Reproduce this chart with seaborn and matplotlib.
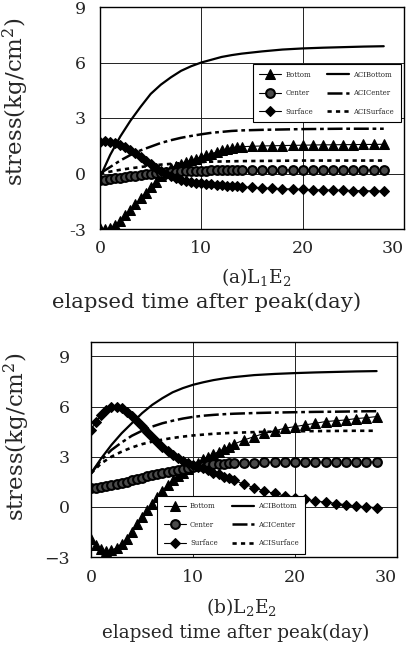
import matplotlib
matplotlib.use("Agg")
import matplotlib.pyplot as plt
import seaborn as sns
import pandas as pd

# ---------------- data ----------------
t_mark = [0, 0.5, 1, 1.5, 2, 2.5, 3, 3.5, 4, 4.5, 5, 5.5, 6, 6.5, 7, 7.5, 8, 8.5, 9, 9.5,
          10, 10.5, 11, 11.5, 12, 12.5, 13, 13.5, 14, 15, 16, 17, 18, 19, 20, 21, 22, 23,
          24, 25, 26, 27, 28]
t_line = [0, 1, 2, 3, 4, 5, 6, 7, 8, 9, 10, 11, 12, 13, 14, 16, 18, 20, 22, 24, 26, 28]

# (a) L1E2
a_bottom = [-2.95, -3.0, -2.95, -2.8, -2.55, -2.25, -1.95, -1.65, -1.35, -1.05, -0.75, -0.45,
            -0.15, 0.1, 0.3, 0.42, 0.53, 0.63, 0.72, 0.8, 0.9, 1.0, 1.08, 1.15, 1.25, 1.33,
            1.38, 1.42, 1.45, 1.47, 1.49, 1.5, 1.51, 1.52, 1.53, 1.54, 1.55, 1.55, 1.56,
            1.56, 1.57, 1.57, 1.58]
a_center = [-0.35, -0.33, -0.3, -0.27, -0.23, -0.2, -0.16, -0.12, -0.08, -0.05, -0.02, 0.01,
            0.04, 0.06, 0.08, 0.1, 0.11, 0.12, 0.13, 0.14, 0.15, 0.16, 0.17, 0.17, 0.18, 0.18,
            0.19, 0.19, 0.2, 0.2, 0.2, 0.2, 0.2, 0.2, 0.2, 0.2, 0.2, 0.2, 0.19, 0.19, 0.19,
            0.18, 0.18]
a_surface = [1.7, 1.75, 1.72, 1.65, 1.55, 1.42, 1.27, 1.1, 0.9, 0.7, 0.5, 0.3, 0.12, -0.02,
             -0.15, -0.25, -0.33, -0.4, -0.45, -0.5, -0.53, -0.56, -0.59, -0.62, -0.64, -0.66,
             -0.68, -0.7, -0.72, -0.75, -0.78, -0.8, -0.82, -0.84, -0.86, -0.88, -0.89, -0.9,
             -0.91, -0.92, -0.93, -0.94, -0.95]
a_aci_bottom = [-0.2, 1.0, 2.0, 2.85, 3.6, 4.3, 4.8, 5.2, 5.55, 5.8, 6.0, 6.15, 6.3, 6.4,
                6.48, 6.6, 6.7, 6.76, 6.8, 6.83, 6.86, 6.88]
a_aci_center = [0.0, 0.35, 0.7, 1.0, 1.25, 1.45, 1.65, 1.8, 1.93, 2.03, 2.12, 2.2, 2.25, 2.3,
                2.33, 2.36, 2.38, 2.4, 2.41, 2.42, 2.42, 2.42]
a_aci_surface = [0.0, 0.1, 0.2, 0.28, 0.35, 0.42, 0.48, 0.52, 0.56, 0.6, 0.62, 0.64, 0.65,
                 0.66, 0.67, 0.68, 0.69, 0.7, 0.7, 0.7, 0.7, 0.7]

# (b) L2E2
b_bottom = [-1.9, -2.3, -2.55, -2.65, -2.6, -2.45, -2.2, -1.9, -1.5, -1.05, -0.6, -0.2, 0.2,
            0.6, 0.95, 1.3, 1.6, 1.85, 2.05, 2.25, 2.45, 2.65, 2.85, 3.0, 3.15, 3.3, 3.45,
            3.6, 3.75, 4.0, 4.2, 4.4, 4.55, 4.7, 4.8, 4.9, 5.0, 5.1, 5.15, 5.2, 5.28, 5.33, 5.4]
b_center = [1.1, 1.13, 1.17, 1.22, 1.28, 1.35, 1.42, 1.5, 1.58, 1.66, 1.74, 1.82, 1.9, 1.97,
            2.04, 2.1, 2.16, 2.22, 2.28, 2.33, 2.38, 2.43, 2.47, 2.51, 2.54, 2.57, 2.59, 2.61,
            2.62, 2.64, 2.65, 2.66, 2.66, 2.67, 2.67, 2.67, 2.67, 2.68, 2.68, 2.68, 2.68,
            2.68, 2.68]
b_surface = [4.6, 5.1, 5.5, 5.8, 5.95, 6.0, 5.9, 5.7, 5.45, 5.15, 4.85, 4.5, 4.2, 3.9, 3.6,
             3.35, 3.1, 2.9, 2.75, 2.6, 2.5, 2.4, 2.3, 2.2, 2.05, 1.95, 1.8, 1.7, 1.6, 1.35,
             1.15, 0.95, 0.8, 0.65, 0.55, 0.45, 0.35, 0.28, 0.2, 0.12, 0.05, 0.0, -0.05]
b_aci_bottom = [2.0, 2.9, 3.7, 4.4, 5.0, 5.6, 6.1, 6.5, 6.85, 7.1, 7.3, 7.45, 7.58, 7.68,
                7.76, 7.88, 7.95, 8.0, 8.04, 8.07, 8.1, 8.12]
b_aci_center = [2.0, 2.8, 3.4, 3.85, 4.25, 4.55, 4.8, 5.0, 5.15, 5.28, 5.38, 5.45, 5.5, 5.54,
                5.57, 5.61, 5.64, 5.66, 5.68, 5.69, 5.71, 5.72]
b_aci_surface = [2.0, 2.6, 3.0, 3.3, 3.55, 3.75, 3.9, 4.02, 4.12, 4.2, 4.27, 4.32, 4.37, 4.4,
                 4.43, 4.47, 4.5, 4.52, 4.53, 4.54, 4.55, 4.55]

marker_labels = ["Bottom", "Center", "Surface"]
line_labels = ["ACIBottom", "ACICenter", "ACISurface"]
y_ticks = [-3, 0, 3, 6, 9]
x_ticks = [0, 10, 20, 30]

# ---------------- style ----------------
sns.set_theme(style="white")
plt.rcParams["font.family"] = ["DejaVu Serif"]
plt.rcParams["mathtext.fontset"] = "dejavuserif"

fig = plt.figure(figsize=(4.12, 6.45), dpi=100)
W, H = 412, 645


def px_axes(l, t, r, b):
    return fig.add_axes([l / W, 1 - b / H, (r - l) / W, (b - t) / H])


ax1 = px_axes(100, 7, 404, 229)
ax2 = px_axes(91, 342, 397, 557)

mstyles = [
    dict(marker="^", markersize=7, markerfacecolor="black", markeredgecolor="black"),
    dict(marker="o", markersize=6.3, markerfacecolor="#4a4a4a", markeredgecolor="black",
         markeredgewidth=1.5),
    dict(marker="D", markersize=5.3, markerfacecolor="black", markeredgecolor="black"),
]
lstyles = [
    dict(linestyle="-", linewidth=1.6),
    dict(linestyle=(0, (6, 1.5, 1.5, 1.5)), linewidth=1.8),
    dict(linestyle=(0, (1.6, 1.6)), linewidth=1.9),
]


def draw(ax, marks, lines, ylim, ylabels, xpad, ypad, leg_anchor, leg_loc):
    for vals, lab, st in zip(marks, marker_labels, mstyles):
        df = pd.DataFrame({"t": t_mark, "v": vals})
        sns.lineplot(data=df, x="t", y="v", ax=ax, color="black", linewidth=0.8,
                     label=lab, estimator=None, sort=False, **st)
    for vals, lab, st in zip(lines, line_labels, lstyles):
        df = pd.DataFrame({"t": t_line, "v": vals})
        sns.lineplot(data=df, x="t", y="v", ax=ax, color="black", label=lab,
                     estimator=None, sort=False, **st)
    ax.set_xlim(0, 30)
    ax.set_ylim(*ylim)
    ax.set_xticks(x_ticks)
    ax.set_xticklabels([str(v) for v in x_ticks])
    ax.set_yticks(y_ticks)
    ax.set_yticklabels(ylabels)
    ax.get_xticklabels()[-1].set_horizontalalignment("right")
    ax.set_xlabel("")
    ax.set_ylabel("")
    ax.grid(True, color="#222222", linewidth=0.7)
    for s in ax.spines.values():
        s.set_color("black")
        s.set_linewidth(1.0)
    ax.tick_params(axis="x", length=0, pad=xpad, labelsize=12.5)
    ax.tick_params(axis="y", length=0, pad=ypad, labelsize=12.5)
    leg = ax.legend(ncol=2, loc=leg_loc, bbox_to_anchor=leg_anchor,
                    bbox_transform=fig.transFigure, fontsize=5, frameon=True,
                    fancybox=False, edgecolor="black", framealpha=1, handlelength=3.2,
                    labelspacing=1.5, columnspacing=2.0, borderpad=0.9, handletextpad=0.6,
                    markerscale=1.0)
    leg.get_frame().set_linewidth(0.8)


draw(ax1, [a_bottom, a_center, a_surface], [a_aci_bottom, a_aci_center, a_aci_surface],
     (-3, 9), ["-3", "0", "3", "6", "9"], 8, 10,
     (404 / W, 1 - 61 / H), "upper right")
draw(ax2, [b_bottom, b_center, b_surface], [b_aci_bottom, b_aci_center, b_aci_surface],
     (-3, 9.86), ["\u22123", "0", "3", "6", "9"], 9, 15,
     (154 / W, 1 - 557 / H), "lower left")

fig.text(16 / W, 1 - 102 / H, "stress(kg/cm$^2$)", rotation=90, ha="center", va="center",
         fontsize=16.5)
fig.text(17 / W, 1 - 437 / H, "stress(kg/cm$^2$)", rotation=90, ha="center", va="center",
         fontsize=16.5)
fig.text(256 / W, 1 - 277 / H, "(a)L$_1$E$_2$", ha="center", va="center", fontsize=13.5)
fig.text(207 / W, 1 - 302 / H, "elapsed time after peak(day)", ha="center", va="center",
         fontsize=15.3)
fig.text(242 / W, 1 - 607 / H, "(b)L$_2$E$_2$", ha="center", va="center", fontsize=13.5)
fig.text(236 / W, 1 - 633 / H, "elapsed time after peak(day)", ha="center", va="center",
         fontsize=13.2)

fig.savefig("out.png", dpi=100)
